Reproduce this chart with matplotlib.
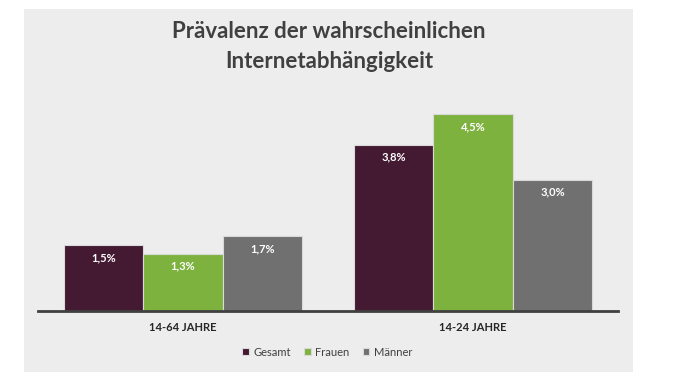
import matplotlib.pyplot as plt
from matplotlib.patches import Rectangle
import numpy as np

plt.rcParams.update({"font.family": ["Lato", "DejaVu Sans"]})

groups = ["14-64 JAHRE", "14-24 JAHRE"]
series = ["Gesamt", "Frauen", "Männer"]
gesamt = [1.5, 3.8]
frauen = [1.3, 4.5]
maenner = [1.7, 3.0]
colors = ["#441a33", "#7db23f", "#707070"]

fig = plt.figure(figsize=(6.85, 3.83), dpi=100)
fig.patches.append(
    Rectangle((24 / 685, 1 - 372 / 383), (633 - 24) / 685, (372 - 9) / 383,
              transform=fig.transFigure, fc="#ededed", ec="none", zorder=-5)
)

ax = fig.add_axes([38 / 685, 1 - 310.5 / 383, 580 / 685, 218 / 383])
ax.set_facecolor("none")
ax.set_zorder(2)

x = np.arange(len(groups))
w = 0.274
for i, (name, vals) in enumerate(zip(series, [gesamt, frauen, maenner])):
    pos = x + (i - 1) * w
    bars = ax.bar(pos, vals, w, color=colors[i], edgecolor="#d9d9d9",
                  linewidth=0.8, label=name, zorder=2)
    for b, v in zip(bars, vals):
        ax.text(b.get_x() + b.get_width() / 2, v - 0.16,
                f"{v:.1f}%".replace(".", ","), ha="center", va="top",
                color="white", fontsize=8, fontweight="bold", zorder=4)

ax.set_xlim(-0.5, 1.5)
ax.set_ylim(0, 5)
ax.set_yticks([])
ax.set_xticks(x)
ax.set_xticklabels(groups, fontsize=8, fontweight="bold", color="#262626")
ax.tick_params(axis="x", length=0, pad=8)
for s in ["top", "right", "left"]:
    ax.spines[s].set_visible(False)
ax.spines["bottom"].set_color("#404040")
ax.spines["bottom"].set_linewidth(2)
ax.spines["bottom"].set_zorder(3)

fig.text(329 / 685, 1 - 32 / 383, "Prävalenz der wahrscheinlichen",
         ha="center", va="center", fontsize=16, fontweight="bold", color="#404040")
fig.text(329 / 685, 1 - 62 / 383, "Internetabhängigkeit",
         ha="center", va="center", fontsize=16, fontweight="bold", color="#404040")

leg = fig.legend(loc="center", bbox_to_anchor=(327 / 685, 1 - 352 / 383), ncol=3,
                 frameon=False, fontsize=8, handlelength=0.6, handleheight=0.6,
                 handletextpad=0.4, columnspacing=1.2, labelcolor="#404040")

fig.savefig("out.png", dpi=100)
